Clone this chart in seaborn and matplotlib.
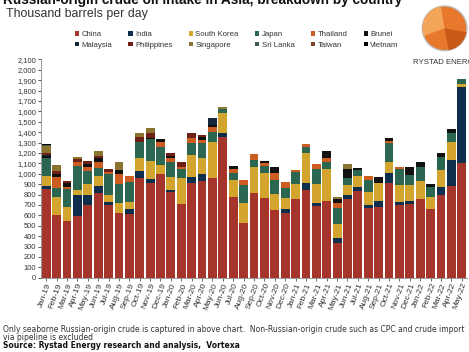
import numpy as np
import pandas as pd
import matplotlib
matplotlib.use("Agg")
import matplotlib.pyplot as plt
import seaborn as sns
from matplotlib.patches import Patch, Circle, Wedge
from matplotlib.ticker import FuncFormatter

months = ["Jan-19", "Feb-19", "Mar-19", "Apr-19", "May-19", "Jun-19", "Jul-19", "Aug-19",
          "Sep-19", "Oct-19", "Nov-19", "Dec-19", "Jan-20", "Feb-20", "Mar-20", "Apr-20",
          "May-20", "Jun-20", "Jul-20", "Aug-20", "Sep-20", "Oct-20", "Nov-20", "Dec-20",
          "Jan-21", "Feb-21", "Mar-21", "Apr-21", "May-21", "Jun-21", "Jul-21", "Aug-21",
          "Sep-21", "Oct-21", "Nov-21", "Dec-21", "Jan-22", "Feb-22", "Mar-22", "Apr-22",
          "May-22"]

china = [850, 600, 549, 593, 699, 817, 699, 625, 612, 962, 913, 997, 827, 705, 913, 933,
         955, 1356, 772, 522, 811, 769, 651, 625, 756, 843, 689, 740, 337, 753, 837, 667,
         676, 907, 699, 708, 756, 660, 795, 881, 1106]
india = [35, 0, 0, 205, 95, 65, 30, 0, 45, 65, 40, 0, 16, 0, 52, 64,
         0, 32, 0, 0, 0, 0, 0, 32, 0, 70, 26, 0, 41, 42, 38, 32,
         64, 96, 32, 32, 0, 0, 74, 250, 731]
south_korea = [95, 180, 135, 45, 105, 95, 70, 90, 75, 120, 170, 85, 128, 250, 214, 150,
               353, 199, 167, 199, 250, 234, 150, 106, 145, 283, 186, 302, 138, 96, 103, 128,
               173, 112, 160, 151, 173, 112, 166, 177, 25]
japan = [170, 85, 173, 230, 125, 75, 195, 190, 190, 160, 210, 175, 144, 87, 119, 151,
         89, 32, 71, 170, 70, 71, 138, 96, 118, 64, 141, 67, 151, 64, 55, 112,
         0, 177, 151, 96, 132, 103, 122, 80, 45]
thailand = [0, 105, 20, 40, 40, 65, 20, 95, 55, 0, 0, 50, 32, 25, 42, 26,
            55, 0, 32, 48, 55, 25, 64, 64, 16, 22, 48, 38, 54, 0, 0, 39,
            0, 25, 25, 0, 0, 0, 0, 0, 0]
brunei = [20, 25, 30, 0, 30, 30, 0, 40, 0, 0, 15, 25, 20, 0, 0, 32,
          20, 0, 32, 0, 0, 26, 58, 0, 0, 0, 0, 71, 32, 87, 18, 0,
          52, 23, 0, 74, 48, 26, 45, 38, 0]
malaysia = [10, 0, 0, 0, 0, 0, 0, 0, 0, 0, 0, 0, 0, 0, 0, 0,
            60, 0, 0, 0, 0, 0, 0, 0, 0, 0, 0, 0, 0, 0, 0, 0,
            0, 0, 0, 0, 0, 0, 0, 0, 0]
philippines = [15, 30, 25, 30, 30, 20, 35, 0, 0, 48, 40, 0, 29, 42, 54, 16,
               0, 0, 0, 0, 0, 0, 0, 0, 0, 0, 0, 0, 0, 0, 0, 0,
               0, 0, 0, 0, 0, 0, 0, 0, 0]
singapore = [70, 60, 0, 22, 0, 50, 0, 70, 0, 38, 50, 0, 0, 0, 0, 0,
             0, 19, 0, 0, 0, 0, 0, 0, 0, 0, 0, 0, 26, 48, 0, 0,
             0, 0, 0, 0, 0, 0, 0, 0, 0]
sri_lanka = [10, 0, 0, 0, 0, 0, 0, 0, 0, 0, 0, 0, 0, 0, 0, 0,
             0, 0, 0, 0, 0, 0, 0, 0, 0, 0, 0, 0, 0, 0, 0, 0,
             0, 0, 0, 0, 0, 0, 0, 0, 0]
taiwan = [0, 0, 0, 0, 0, 0, 0, 0, 0, 0, 0, 0, 0, 0, 0, 0,
          0, 0, 0, 0, 0, 0, 0, 0, 0, 0, 0, 0, 0, 0, 0, 0,
          0, 0, 0, 0, 0, 0, 0, 0, 0]
vietnam = [10, 0, 0, 0, 0, 0, 0, 0, 0, 0, 0, 0, 0, 0, 0, 0,
           0, 0, 0, 0, 0, 0, 0, 0, 0, 0, 0, 0, 0, 0, 0, 0,
           0, 0, 0, 0, 0, 0, 0, 0, 0]

countries = ["China", "India", "South Korea", "Japan", "Thailand", "Brunei",
             "Malaysia", "Philippines", "Singapore", "Sri Lanka", "Taiwan", "Vietnam"]
series = [china, india, south_korea, japan, thailand, brunei,
          malaysia, philippines, singapore, sri_lanka, taiwan, vietnam]
colors = ["#A5352B", "#0D2F4D", "#D3A52E", "#2B6650", "#CC5C1F", "#111111",
          "#14283A", "#6E2018", "#8A7430", "#3C5E48", "#7A4426", "#000000"]

sns.set_theme(style="white")
plt.rcParams['font.family'] = ['Liberation Sans', 'DejaVu Sans']

fig = plt.figure(figsize=(4.69, 3.52), dpi=100)
ax = fig.add_axes([0.0874, 0.211, 0.9083, 0.6205])

cum = np.cumsum(np.array(series, dtype=float), axis=0)
for k in range(len(countries) - 1, -1, -1):
    df = pd.DataFrame({"month": months, "value": cum[k]})
    sns.barplot(data=df, x="month", y="value", order=months, color=colors[k],
                saturation=1, width=0.85, errorbar=None, linewidth=0, ax=ax)

ax.set_xlim(-0.5, len(months) - 0.5)
ax.set_ylim(0, 2100)
ax.set_yticks(np.arange(0, 2101, 100))
ax.yaxis.set_major_formatter(FuncFormatter(lambda v, p: f"{int(v):,}"))
ax.set_xlabel("")
ax.set_ylabel("")
ax.tick_params(axis="y", labelsize=5.4, colors="#333333", length=2, width=0.6, left=True, pad=1.5)
ax.tick_params(axis="x", labelsize=6, colors="#333333", length=2, width=0.5, bottom=True, pad=1)
for lbl in ax.get_xticklabels():
    lbl.set_rotation(70)
    lbl.set_ha("right")
    lbl.set_rotation_mode("anchor")
for s in ["top", "right"]:
    ax.spines[s].set_visible(False)
for s in ["left", "bottom"]:
    ax.spines[s].set_color("#888888")
    ax.spines[s].set_linewidth(0.6)

# legend (row-major order via column-major reordering)
order = [0, 6, 1, 7, 2, 8, 3, 9, 4, 10, 5, 11]
handles = [Patch(facecolor=colors[i], edgecolor="none", label=countries[i]) for i in order]
fig.legend(handles=handles, ncol=6, loc="center", bbox_to_anchor=(0.505, 0.887),
           frameon=False, fontsize=5.6, handlelength=0.55, handleheight=0.55,
           handletextpad=0.3, columnspacing=2.1, labelspacing=0.45,
           labelcolor="#333333")

# title & subtitle
fig.text(0.006, 0.989, "Russian-origin crude oil intake in Asia, breakdown by country",
         fontsize=9.8, fontweight="bold", ha="left", va="baseline", color="#111111")
fig.text(0.013, 0.952, "Thousand barrels per day", fontsize=8.9, ha="left",
         va="baseline", color="#333333")

# logo
logo_ax = fig.add_axes([0.898, 0.852, 0.1, 0.135])
logo_ax.set_xlim(-1, 1)
logo_ax.set_ylim(-1, 1)
logo_ax.set_aspect("equal")
logo_ax.axis("off")
logo_ax.add_patch(Circle((0, 0), 0.95, facecolor="#E8782C", edgecolor="#B9B9B9", linewidth=1.0))
logo_ax.add_patch(Wedge((0, 0), 0.95, 100, 200, facecolor="#F4A55A", edgecolor="none"))
logo_ax.add_patch(Wedge((0, 0), 0.95, 280, 350, facecolor="#C95A1A", edgecolor="none"))
fig.text(0.881, 0.822, "RYSTAD ENERGY", fontsize=5.6, ha="left", va="center", color="#333333")

# footnotes
fig.text(0.006, 0.064,
         "Only seaborne Russian-origin crude is captured in above chart.  Non-Russian-origin crude such as CPC and crude import",
         fontsize=5.5, family="DejaVu Sans", ha="left", va="center", color="#333333")
fig.text(0.006, 0.041, "via pipeline is excluded",
         fontsize=5.5, family="DejaVu Sans", ha="left", va="center", color="#333333")
fig.text(0.006, 0.018, "Source: Rystad Energy research and analysis,  Vortexa",
         fontsize=5.5, family="DejaVu Sans", fontweight="bold", ha="left", va="center",
         color="#111111")

fig.savefig("out.png", dpi=100)
